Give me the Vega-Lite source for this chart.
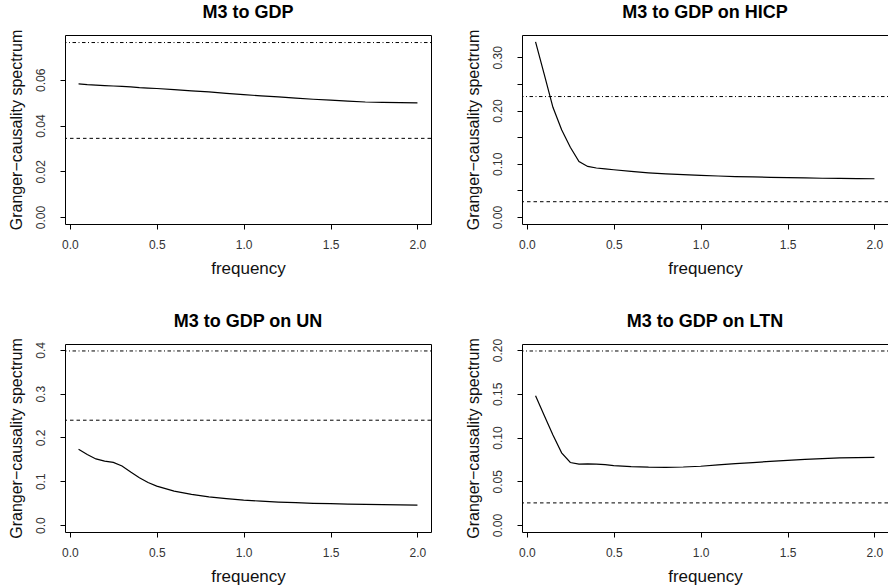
{
  "$schema": "https://vega.github.io/schema/vega-lite/v6.json",
  "background": "white",
  "padding": {"left": 7, "top": 3, "right": 0, "bottom": 0},
  "config": {
    "font": "Liberation Sans",
    "view": {"stroke": "black", "strokeWidth": 1},
    "title": {"fontSize": 18, "fontWeight": "bold", "color": "black", "offset": 7, "font": "Liberation Sans"},
    "axis": {
      "domain": false, "grid": false, "ticks": true, "tickColor": "black", "tickSize": 5, "tickWidth": 1,
      "labelFont": "Liberation Sans", "labelFontSize": 12, "labelColor": "#333", "labelPadding": 10,
      "titleFont": "Liberation Sans", "titleFontSize": 16, "titleFontWeight": "normal", "titleColor": "#111", "titlePadding": 10
    },
    "axisX": {"titleFontSize": 17},
    "axisY": {"labelAngle": -90, "labelAlign": "center", "labelBaseline": "bottom", "labelPadding": 13},
    "concat": {"spacing": {"row": 35, "column": 32}}
  },
  "datasets": {
    "curves": [
      {"panel": "A", "frequency": 0.05, "gc": 0.0582}, {"panel": "A", "frequency": 0.1, "gc": 0.0579}, {"panel": "A", "frequency": 0.15, "gc": 0.0577}, {"panel": "A", "frequency": 0.2, "gc": 0.0575}, {"panel": "A", "frequency": 0.25, "gc": 0.0573}, {"panel": "A", "frequency": 0.3, "gc": 0.0571}, {"panel": "A", "frequency": 0.35, "gc": 0.0569}, {"panel": "A", "frequency": 0.4, "gc": 0.0566}, {"panel": "A", "frequency": 0.45, "gc": 0.0564}, {"panel": "A", "frequency": 0.5, "gc": 0.0562}, {"panel": "A", "frequency": 0.6, "gc": 0.0557}, {"panel": "A", "frequency": 0.7, "gc": 0.0552}, {"panel": "A", "frequency": 0.8, "gc": 0.0547}, {"panel": "A", "frequency": 0.9, "gc": 0.0541}, {"panel": "A", "frequency": 1.0, "gc": 0.0535}, {"panel": "A", "frequency": 1.1, "gc": 0.053}, {"panel": "A", "frequency": 1.2, "gc": 0.0525}, {"panel": "A", "frequency": 1.3, "gc": 0.052}, {"panel": "A", "frequency": 1.4, "gc": 0.0515}, {"panel": "A", "frequency": 1.5, "gc": 0.0511}, {"panel": "A", "frequency": 1.6, "gc": 0.0507}, {"panel": "A", "frequency": 1.7, "gc": 0.0503}, {"panel": "A", "frequency": 1.8, "gc": 0.0501}, {"panel": "A", "frequency": 1.9, "gc": 0.05}, {"panel": "A", "frequency": 2.0, "gc": 0.0499},
      {"panel": "B", "frequency": 0.05, "gc": 0.329}, {"panel": "B", "frequency": 0.1, "gc": 0.268}, {"panel": "B", "frequency": 0.15, "gc": 0.206}, {"panel": "B", "frequency": 0.2, "gc": 0.164}, {"panel": "B", "frequency": 0.25, "gc": 0.131}, {"panel": "B", "frequency": 0.3, "gc": 0.104}, {"panel": "B", "frequency": 0.35, "gc": 0.095}, {"panel": "B", "frequency": 0.4, "gc": 0.092}, {"panel": "B", "frequency": 0.45, "gc": 0.0905}, {"panel": "B", "frequency": 0.5, "gc": 0.0887}, {"panel": "B", "frequency": 0.6, "gc": 0.0855}, {"panel": "B", "frequency": 0.7, "gc": 0.083}, {"panel": "B", "frequency": 0.8, "gc": 0.081}, {"panel": "B", "frequency": 0.9, "gc": 0.0795}, {"panel": "B", "frequency": 1.0, "gc": 0.078}, {"panel": "B", "frequency": 1.1, "gc": 0.077}, {"panel": "B", "frequency": 1.2, "gc": 0.076}, {"panel": "B", "frequency": 1.3, "gc": 0.0752}, {"panel": "B", "frequency": 1.4, "gc": 0.0745}, {"panel": "B", "frequency": 1.5, "gc": 0.0738}, {"panel": "B", "frequency": 1.6, "gc": 0.0733}, {"panel": "B", "frequency": 1.7, "gc": 0.0728}, {"panel": "B", "frequency": 1.8, "gc": 0.0724}, {"panel": "B", "frequency": 1.9, "gc": 0.0721}, {"panel": "B", "frequency": 2.0, "gc": 0.0718},
      {"panel": "C", "frequency": 0.05, "gc": 0.173}, {"panel": "C", "frequency": 0.1, "gc": 0.161}, {"panel": "C", "frequency": 0.15, "gc": 0.151}, {"panel": "C", "frequency": 0.2, "gc": 0.146}, {"panel": "C", "frequency": 0.25, "gc": 0.143}, {"panel": "C", "frequency": 0.3, "gc": 0.135}, {"panel": "C", "frequency": 0.35, "gc": 0.121}, {"panel": "C", "frequency": 0.4, "gc": 0.108}, {"panel": "C", "frequency": 0.45, "gc": 0.097}, {"panel": "C", "frequency": 0.5, "gc": 0.089}, {"panel": "C", "frequency": 0.6, "gc": 0.0775}, {"panel": "C", "frequency": 0.7, "gc": 0.07}, {"panel": "C", "frequency": 0.8, "gc": 0.0645}, {"panel": "C", "frequency": 0.9, "gc": 0.0605}, {"panel": "C", "frequency": 1.0, "gc": 0.057}, {"panel": "C", "frequency": 1.1, "gc": 0.0545}, {"panel": "C", "frequency": 1.2, "gc": 0.0525}, {"panel": "C", "frequency": 1.3, "gc": 0.051}, {"panel": "C", "frequency": 1.4, "gc": 0.0497}, {"panel": "C", "frequency": 1.5, "gc": 0.0487}, {"panel": "C", "frequency": 1.6, "gc": 0.0478}, {"panel": "C", "frequency": 1.7, "gc": 0.0471}, {"panel": "C", "frequency": 1.8, "gc": 0.0465}, {"panel": "C", "frequency": 1.9, "gc": 0.046}, {"panel": "C", "frequency": 2.0, "gc": 0.0456},
      {"panel": "D", "frequency": 0.05, "gc": 0.1477}, {"panel": "D", "frequency": 0.1, "gc": 0.1253}, {"panel": "D", "frequency": 0.15, "gc": 0.103}, {"panel": "D", "frequency": 0.2, "gc": 0.0825}, {"panel": "D", "frequency": 0.25, "gc": 0.0715}, {"panel": "D", "frequency": 0.3, "gc": 0.0697}, {"panel": "D", "frequency": 0.35, "gc": 0.0699}, {"panel": "D", "frequency": 0.4, "gc": 0.0697}, {"panel": "D", "frequency": 0.45, "gc": 0.069}, {"panel": "D", "frequency": 0.5, "gc": 0.068}, {"panel": "D", "frequency": 0.6, "gc": 0.0668}, {"panel": "D", "frequency": 0.7, "gc": 0.0661}, {"panel": "D", "frequency": 0.8, "gc": 0.0659}, {"panel": "D", "frequency": 0.9, "gc": 0.0663}, {"panel": "D", "frequency": 1.0, "gc": 0.0672}, {"panel": "D", "frequency": 1.1, "gc": 0.0688}, {"panel": "D", "frequency": 1.2, "gc": 0.0702}, {"panel": "D", "frequency": 1.3, "gc": 0.0714}, {"panel": "D", "frequency": 1.4, "gc": 0.0727}, {"panel": "D", "frequency": 1.5, "gc": 0.0739}, {"panel": "D", "frequency": 1.6, "gc": 0.075}, {"panel": "D", "frequency": 1.7, "gc": 0.076}, {"panel": "D", "frequency": 1.8, "gc": 0.0767}, {"panel": "D", "frequency": 1.9, "gc": 0.0771}, {"panel": "D", "frequency": 2.0, "gc": 0.0773}
    ],
    "bounds": [
      {"panel": "A", "kind": "dashed", "gc": 0.0344}, {"panel": "A", "kind": "dotdash", "gc": 0.0763},
      {"panel": "B", "kind": "dashed", "gc": 0.0287}, {"panel": "B", "kind": "dotdash", "gc": 0.2262},
      {"panel": "C", "kind": "dashed", "gc": 0.2395}, {"panel": "C", "kind": "dotdash", "gc": 0.3977},
      {"panel": "D", "kind": "dashed", "gc": 0.0253}, {"panel": "D", "kind": "dotdash", "gc": 0.1989}
    ]
  },
  "columns": 2,
  "concat": [
    {
      "width": 366, "height": 189,
      "title": "M3 to GDP",
      "encoding": {"y": {"field": "gc", "type": "quantitative", "title": "Granger\u2212causality spectrum", "scale": {"domain": [-0.00306, 0.0796], "nice": false, "zero": false}, "axis": {"values": [0, 0.02, 0.04, 0.06], "format": ".2f"}}},
      "layer": [
        {"data": {"name": "curves"}, "transform": [{"filter": "datum.panel === 'A'"}], "mark": {"type": "line", "color": "black", "strokeWidth": 1.2}, "encoding": {"x": {"field": "frequency", "type": "quantitative", "title": "frequency", "scale": {"domain": [-0.028, 2.078], "nice": false, "zero": false}, "axis": {"values": [0, 0.5, 1, 1.5, 2], "format": ".1f"}}}},
        {"data": {"name": "bounds"}, "transform": [{"filter": "datum.panel === 'A' && datum.kind === 'dashed'"}], "mark": {"type": "rule", "color": "black", "strokeWidth": 1, "strokeDash": [3.5, 3]}},
        {"data": {"name": "bounds"}, "transform": [{"filter": "datum.panel === 'A' && datum.kind === 'dotdash'"}], "mark": {"type": "rule", "color": "black", "strokeWidth": 1, "strokeDash": [1, 2.5, 3.5, 2.5]}}
      ]
    },
    {
      "width": 366, "height": 189,
      "title": "M3 to GDP on HICP",
      "encoding": {"y": {"field": "gc", "type": "quantitative", "title": "Granger\u2212causality spectrum", "scale": {"domain": [-0.01315, 0.3418], "nice": false, "zero": false}, "axis": {"values": [0, 0.05, 0.1, 0.15, 0.2, 0.25, 0.3], "labelExpr": "abs(datum.value * 10 - round(datum.value * 10)) < 0.001 ? format(datum.value, '.2f') : ''"}}},
      "layer": [
        {"data": {"name": "curves"}, "transform": [{"filter": "datum.panel === 'B'"}], "mark": {"type": "line", "color": "black", "strokeWidth": 1.2}, "encoding": {"x": {"field": "frequency", "type": "quantitative", "title": "frequency", "scale": {"domain": [-0.028, 2.078], "nice": false, "zero": false}, "axis": {"values": [0, 0.5, 1, 1.5, 2], "format": ".1f"}}}},
        {"data": {"name": "bounds"}, "transform": [{"filter": "datum.panel === 'B' && datum.kind === 'dashed'"}], "mark": {"type": "rule", "color": "black", "strokeWidth": 1, "strokeDash": [3.5, 3]}},
        {"data": {"name": "bounds"}, "transform": [{"filter": "datum.panel === 'B' && datum.kind === 'dotdash'"}], "mark": {"type": "rule", "color": "black", "strokeWidth": 1, "strokeDash": [1, 2.5, 3.5, 2.5]}}
      ]
    },
    {
      "width": 366, "height": 188,
      "title": "M3 to GDP on UN",
      "encoding": {"y": {"field": "gc", "type": "quantitative", "title": "Granger\u2212causality spectrum", "scale": {"domain": [-0.0159, 0.4136], "nice": false, "zero": false}, "axis": {"values": [0, 0.1, 0.2, 0.3, 0.4], "format": ".1f"}}},
      "layer": [
        {"data": {"name": "curves"}, "transform": [{"filter": "datum.panel === 'C'"}], "mark": {"type": "line", "color": "black", "strokeWidth": 1.2}, "encoding": {"x": {"field": "frequency", "type": "quantitative", "title": "frequency", "scale": {"domain": [-0.028, 2.078], "nice": false, "zero": false}, "axis": {"values": [0, 0.5, 1, 1.5, 2], "format": ".1f"}}}},
        {"data": {"name": "bounds"}, "transform": [{"filter": "datum.panel === 'C' && datum.kind === 'dashed'"}], "mark": {"type": "rule", "color": "black", "strokeWidth": 1, "strokeDash": [3.5, 3]}},
        {"data": {"name": "bounds"}, "transform": [{"filter": "datum.panel === 'C' && datum.kind === 'dotdash'"}], "mark": {"type": "rule", "color": "black", "strokeWidth": 1, "strokeDash": [1, 2.5, 3.5, 2.5]}}
      ]
    },
    {
      "width": 366, "height": 188,
      "title": "M3 to GDP on LTN",
      "encoding": {"y": {"field": "gc", "type": "quantitative", "title": "Granger\u2212causality spectrum", "scale": {"domain": [-0.00796, 0.2069], "nice": false, "zero": false}, "axis": {"values": [0, 0.05, 0.1, 0.15, 0.2], "format": ".2f"}}},
      "layer": [
        {"data": {"name": "curves"}, "transform": [{"filter": "datum.panel === 'D'"}], "mark": {"type": "line", "color": "black", "strokeWidth": 1.2}, "encoding": {"x": {"field": "frequency", "type": "quantitative", "title": "frequency", "scale": {"domain": [-0.028, 2.078], "nice": false, "zero": false}, "axis": {"values": [0, 0.5, 1, 1.5, 2], "format": ".1f"}}}},
        {"data": {"name": "bounds"}, "transform": [{"filter": "datum.panel === 'D' && datum.kind === 'dashed'"}], "mark": {"type": "rule", "color": "black", "strokeWidth": 1, "strokeDash": [3.5, 3]}},
        {"data": {"name": "bounds"}, "transform": [{"filter": "datum.panel === 'D' && datum.kind === 'dotdash'"}], "mark": {"type": "rule", "color": "black", "strokeWidth": 1, "strokeDash": [1, 2.5, 3.5, 2.5]}}
      ]
    }
  ]
}
